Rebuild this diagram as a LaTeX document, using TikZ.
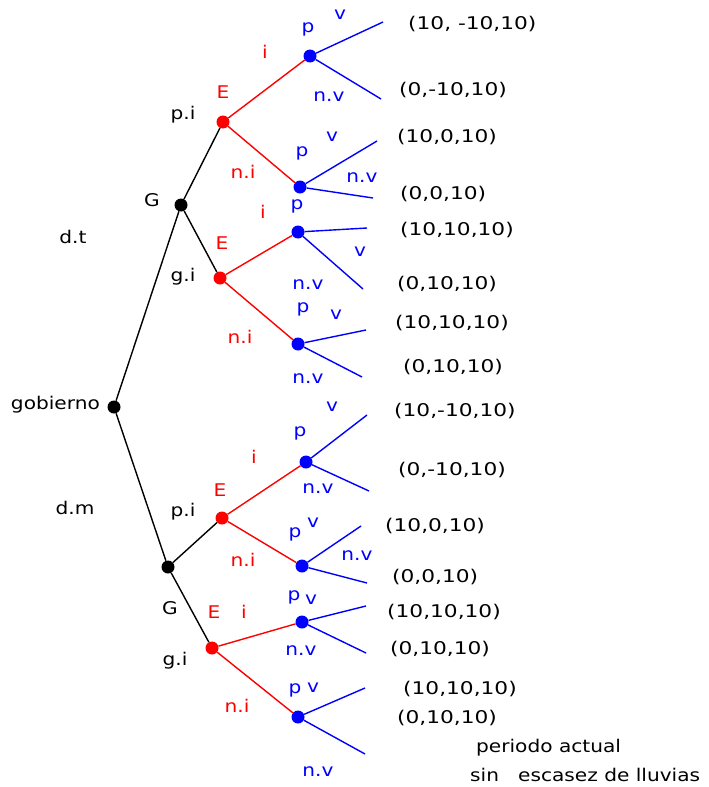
\documentclass[tikz,border=0pt]{standalone}
\usepackage{fontspec}
\setmainfont{DejaVu Sans}[FakeStretch=1.15]
\newfontfamily\payfont{DejaVu Sans}[FakeStretch=1.24]
\begin{document}
\begin{tikzpicture}[x=1pt,y=-1pt,
  nd/.style={circle,fill=#1,inner sep=0pt,minimum size=13pt},
  bk/.style={draw=black,line width=1.4pt},
  rd/.style={draw=red,line width=1.4pt},
  bl/.style={draw=blue,line width=1.4pt},
  tx/.style={font=\fontsize{17.5}{19}\selectfont,inner sep=0pt},
  tb/.style={tx,text=black},
  tr/.style={tx,text=red},
  tu/.style={tx,text=blue},
  pay/.style={font=\payfont\fontsize{17.5}{19}\selectfont,inner sep=0pt,text=black,anchor=west}]
\useasboundingbox[fill=white] (0,0) rectangle (709,787);
% decision nodes
\node[nd=black] (root) at (114,407) {};
\node[nd=black] (G1) at (181,205) {};
\node[nd=black] (G2) at (168,567) {};
\node[nd=red] (E1) at (223,122) {};
\node[nd=red] (E2) at (220,278) {};
\node[nd=red] (E3) at (222,518) {};
\node[nd=red] (E4) at (212,648) {};
\node[nd=blue] (P1) at (310,56) {};
\node[nd=blue] (P2) at (300,187) {};
\node[nd=blue] (P3) at (298,232) {};
\node[nd=blue] (P4) at (298,344) {};
\node[nd=blue] (P5) at (306,462) {};
\node[nd=blue] (P6) at (302,566) {};
\node[nd=blue] (P7) at (302,622) {};
\node[nd=blue] (P8) at (298,717) {};
% leaf ends
\coordinate (L1a) at (383,22);
\coordinate (L1b) at (381,99);
\coordinate (L2a) at (377,141);
\coordinate (L2b) at (373,198);
\coordinate (L3a) at (367,228);
\coordinate (L3b) at (363,289);
\coordinate (L4a) at (366,330);
\coordinate (L4b) at (362,377);
\coordinate (L5a) at (367,415);
\coordinate (L5b) at (369,491);
\coordinate (L6a) at (361,526);
\coordinate (L6b) at (367,583);
\coordinate (L7a) at (366,606);
\coordinate (L7b) at (366,653);
\coordinate (L8a) at (365,688);
\coordinate (L8b) at (365,754);
% edges
\draw[bk] (root) -- (G1);
\draw[bk] (root) -- (G2);
\draw[bk] (G1) -- (E1);
\draw[bk] (G1) -- (E2);
\draw[bk] (G2) -- (E3);
\draw[bk] (G2) -- (E4);
\draw[rd] (E1) -- (P1);
\draw[rd] (E1) -- (P2);
\draw[rd] (E2) -- (P3);
\draw[rd] (E2) -- (P4);
\draw[rd] (E3) -- (P5);
\draw[rd] (E3) -- (P6);
\draw[rd] (E4) -- (P7);
\draw[rd] (E4) -- (P8);
\foreach \k in {1,...,8}{
  \draw[bl] (P\k) -- (L\k a);
  \draw[bl] (P\k) -- (L\k b);
}
% black labels
\node[tb,anchor=east] (tgob) at (100,405) {gobierno};
\node[tb] (tdt) at (73,237) {d.t};
\node[tb] (tdm) at (75,508) {d.m};
\node[tb] (tG1) at (152,200) {G};
\node[tb] (tG2) at (170,608) {G};
\node[tb] (tpi1) at (183,115) {p.i};
\node[tb] (tgi1) at (183,277) {g.i};
\node[tb] (tpi2) at (183,512) {p.i};
\node[tb] (tgi2) at (175,661) {g.i};
% red labels
\node[tr] (tE1) at (223,92) {E};
\node[tr] (tE2) at (222,243) {E};
\node[tr] (tE3) at (220,490) {E};
\node[tr] (tE4) at (214,612) {E};
\node[tr] (ti1) at (265,52) {i};
\node[tr] (ti2) at (263,212) {i};
\node[tr] (ti3) at (254,457) {i};
\node[tr] (ti4) at (244,612) {i};
\node[tr] (tni1) at (243,172) {n.i};
\node[tr] (tni2) at (240,337) {n.i};
\node[tr] (tni3) at (243,560) {n.i};
\node[tr] (tni4) at (237,706) {n.i};
% blue labels
\node[tu] (tp1) at (308,29) {p};
\node[tu] (tv1) at (340,15) {v};
\node[tu] (tnv1) at (329,97) {n.v};
\node[tu] (tp2) at (302,153) {p};
\node[tu] (tv2) at (332,137) {v};
\node[tu] (tnv2) at (362,178) {n.v};
\node[tu] (tp3) at (297,206) {p};
\node[tu] (tv3) at (360,252) {v};
\node[tu] (tnv3) at (308,285) {n.v};
\node[tu] (tp4) at (303,309) {p};
\node[tu] (tv4) at (336,315) {v};
\node[tu] (tnv4) at (308,379) {n.v};
\node[tu] (tp5) at (300,433) {p};
\node[tu] (tv5) at (332,407) {v};
\node[tu] (tnv5) at (318,489) {n.v};
\node[tu] (tp6) at (295,534) {p};
\node[tu] (tv6) at (313,523) {v};
\node[tu] (tnv6) at (357,556) {n.v};
\node[tu] (tp7) at (294,597) {p};
\node[tu] (tv7) at (311,600) {v};
\node[tu] (tnv7) at (301,651) {n.v};
\node[tu] (tp8) at (295,690) {p};
\node[tu] (tv8) at (313,688) {v};
\node[tu] (tnv8) at (318,772) {n.v};
% payoffs
\node[pay] (o1) at (408,24) {(10,\ -10,10)};
\node[pay] (o2) at (399,90) {(0,-10,10)};
\node[pay] (o3) at (397,137) {(10,0,10)};
\node[pay] (o4) at (400,194) {(0,0,10)};
\node[pay] (o5) at (400,230) {(10,10,10)};
\node[pay] (o6) at (397,284) {(0,10,10)};
\node[pay] (o7) at (395,323) {(10,10,10)};
\node[pay] (o8) at (403,367) {(0,10,10)};
\node[pay] (o9) at (394,411) {(10,-10,10)};
\node[pay] (o10) at (398,470) {(0,-10,10)};
\node[pay] (o11) at (385,526) {(10,0,10)};
\node[pay] (o12) at (392,577) {(0,0,10)};
\node[pay] (o13) at (387,612) {(10,10,10)};
\node[pay] (o14) at (390,649) {(0,10,10)};
\node[pay] (o15) at (403,689) {(10,10,10)};
\node[pay] (o16) at (397,718) {(0,10,10)};
\node[tb,anchor=west] (per) at (476,748) {periodo actual};
\node[tb,anchor=west] (sin) at (470,775) {sin\ \ \ escasez de lluvias};
\end{tikzpicture}
\end{document}
